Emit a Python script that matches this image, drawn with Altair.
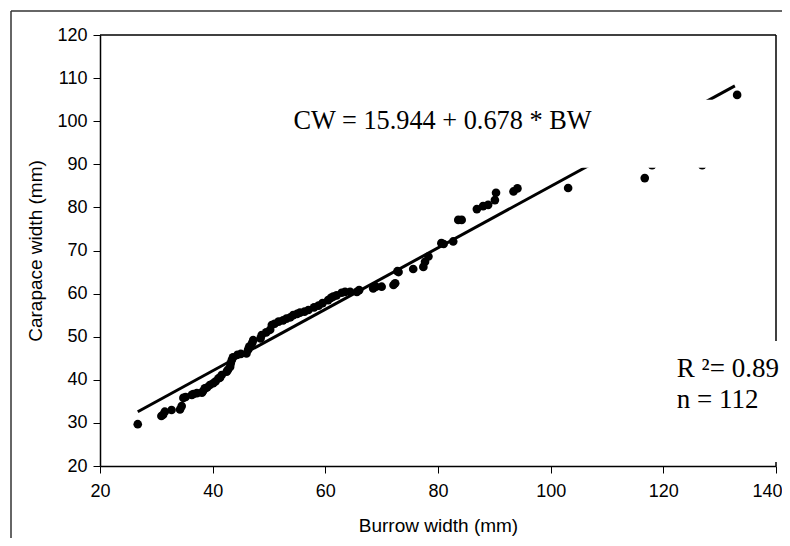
import altair as alt
import pandas as pd

# Burrow width (mm) and carapace width (mm)
burrow_width = [26.7, 30.9, 31.2, 31.5, 32.7, 34.2, 34.5, 34.8, 35.2, 36.3, 36.6, 37.2, 38.1, 38.3,
                38.6, 39.0, 39.5, 40.1, 40.5, 41.0, 41.3, 41.6, 42.5, 42.7, 43.1, 43.2, 43.4, 43.6,
                44.4, 45.0, 46.0, 46.3, 46.5, 47.0, 47.2, 48.5, 48.7, 49.5, 50.2, 50.5, 51.0, 51.7,
                52.5, 53.1, 53.8, 54.3, 55.0, 55.5, 56.3, 57.0, 58.0, 58.8, 59.5, 60.5, 61.0, 61.4,
                62.0, 62.9, 63.5, 64.4, 65.6, 66.0, 68.5, 69.0, 70.0, 72.1, 72.4, 72.8, 73.0, 75.6,
                77.4, 77.7, 78.3, 80.6, 81.0, 82.7, 83.6, 84.2, 86.9, 88.0, 88.9, 90.1, 90.3, 93.4,
                94.1, 103.1, 116.7, 118.0, 126.9, 133.1]
carapace_width = [29.7, 31.6, 31.9, 32.6, 33.0, 33.1, 33.9, 35.8, 36.0, 36.5, 36.7, 36.9, 37.0, 37.4,
                  38.0, 38.2, 38.8, 39.2, 39.6, 40.3, 40.5, 41.1, 41.9, 42.3, 43.0, 43.8, 44.6, 45.2,
                  45.8, 46.0, 46.1, 47.0, 47.7, 48.5, 49.2, 49.6, 50.4, 51.0, 51.6, 52.7, 53.0, 53.5,
                  53.8, 54.2, 54.5, 55.0, 55.3, 55.6, 55.8, 56.2, 56.8, 57.2, 57.8, 58.5, 59.0, 59.3,
                  59.6, 60.2, 60.4, 60.4, 60.4, 60.8, 61.2, 61.6, 61.6, 62.0, 62.4, 65.2, 65.0, 65.7,
                  66.2, 67.4, 68.6, 71.7, 71.5, 72.1, 77.1, 77.1, 79.6, 80.3, 80.6, 81.7, 83.4, 83.7,
                  84.4, 84.5, 86.8, 89.8, 89.8, 106.1]

# Fitted line as drawn (end points)
line_x = [26.7, 132.7]
line_y = [32.6, 108.2]

x_ticks = [20, 40, 60, 80, 100, 120, 140]
y_ticks = [20, 30, 40, 50, 60, 70, 80, 90, 100, 110, 120]

equation_text = "CW = 15.944 + 0.678 * BW"
r2_text = "R \u00b2= 0.89"
n_text = "n = 112"

pts = pd.DataFrame({"bw": burrow_width, "cw": carapace_width})
ln = pd.DataFrame({"bw": line_x, "cw": line_y})
one = pd.DataFrame({"a": [0]})

W, H = 676, 431

xs = alt.Scale(domain=[20, 140], nice=False, zero=False)
ys = alt.Scale(domain=[20, 120], nice=False, zero=False)

x_axis = alt.Axis(values=x_ticks, title="Burrow width (mm)", titleX=W / 2, titleY=59,
                  titleBaseline="middle", titleAlign="center", labelPadding=9, labelFlush=False,
                  labelOffset={"condition": {"test": "datum.value == 140", "value": -9}, "value": 0})
y_axis = alt.Axis(values=y_ticks, title="Carapace width (mm)", titleX=-65, titleY=H / 2,
                  titleAngle=270, titleBaseline="middle", titleAlign="center", labelPadding=6)

frame_left = alt.Chart(one).mark_rule(color="#333333", strokeWidth=1.5).encode(
    x=alt.value(-89), y=alt.value(-24), y2=alt.value(540))
frame_top = alt.Chart(one).mark_rule(color="#333333", strokeWidth=1.5).encode(
    x=alt.value(-89), x2=alt.value(730), y=alt.value(-24))

top_border = alt.Chart(one).mark_rule(color="black", strokeWidth=1.5).encode(
    x=alt.value(0), x2=alt.value(W), y=alt.value(0))
right_border = alt.Chart(one).mark_rule(color="black", strokeWidth=1.5).encode(
    x=alt.value(W), y=alt.value(0), y2=alt.value(H))

points = alt.Chart(pts).mark_circle(size=75, color="black", opacity=1).encode(
    x=alt.X("bw:Q", scale=xs, axis=x_axis),
    y=alt.Y("cw:Q", scale=ys, axis=y_axis),
)

line = alt.Chart(ln).mark_line(color="black", strokeWidth=3).encode(
    x=alt.X("bw:Q", scale=xs), y=alt.Y("cw:Q", scale=ys))

box_eq = alt.Chart(one).mark_rect(fill="white").encode(
    x=alt.datum(52), x2=alt.datum(129.4), y=alt.datum(105), y2=alt.datum(89.2))
box_r2 = alt.Chart(one).mark_rect(fill="white").encode(
    x=alt.datum(121.2), x2=alt.datum(145), y=alt.datum(49), y2=alt.datum(20.9))

eq = alt.Chart(one).mark_text(font="Liberation Serif", fontSize=26.3, color="black",
                              align="center", baseline="alphabetic").encode(
    x=alt.datum(80.8), y=alt.datum(98.2), text=alt.value(equation_text))
r2 = alt.Chart(one).mark_text(font="Liberation Serif", fontSize=27, color="black",
                              align="left", baseline="alphabetic").encode(
    x=alt.datum(122.4), y=alt.datum(40.7), text=alt.value(r2_text))
nn = alt.Chart(one).mark_text(font="Liberation Serif", fontSize=27, color="black",
                              align="left", baseline="alphabetic").encode(
    x=alt.datum(122.4), y=alt.datum(33.5), text=alt.value(n_text))

chart = alt.layer(frame_left, frame_top, top_border, right_border, points, line,
                  box_eq, box_r2, eq, r2, nn).properties(
    width=W, height=H,
    padding={"left": 92, "top": 27, "right": 6, "bottom": 72},
    autosize=alt.AutoSizeParams(type="none"),
    background="white",
).configure_view(stroke=None).configure_axis(
    grid=False,
    domainColor="black", domainWidth=1.5,
    tickColor="black", tickWidth=1, tickSize=7,
    labelFont="Liberation Sans", labelFontSize=18, labelColor="black",
    titleFont="Liberation Sans", titleFontSize=19, titleFontWeight="normal", titleColor="black",
)

chart.save("out.html", embed_options={"renderer": "svg", "actions": False})
